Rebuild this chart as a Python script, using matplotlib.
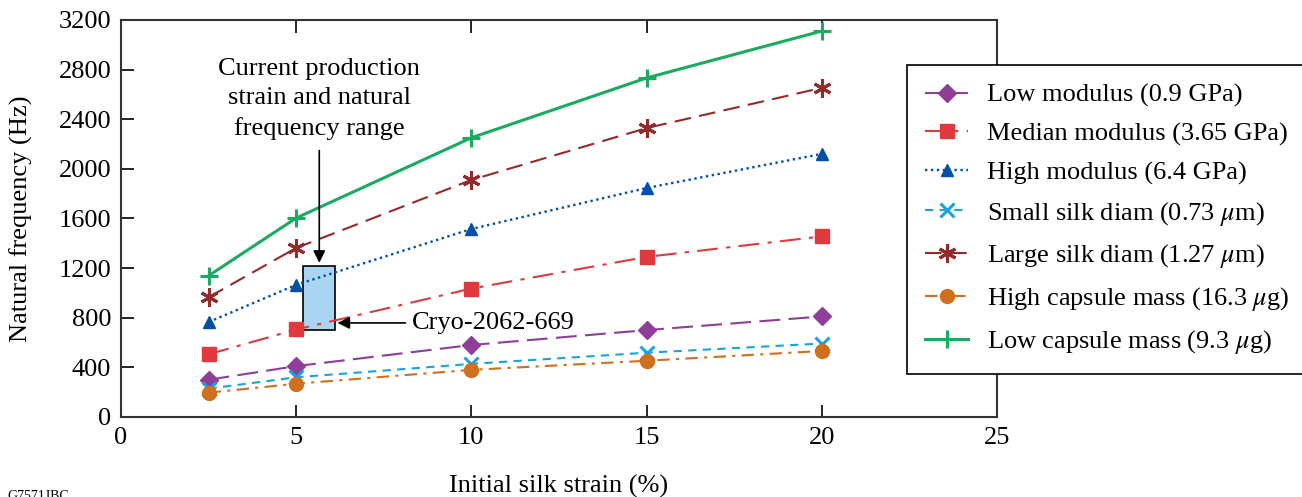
import matplotlib
matplotlib.use("Agg")
import matplotlib.pyplot as plt
from matplotlib.patches import Rectangle

plt.rcParams['font.family'] = ['Liberation Serif', 'DejaVu Serif']
plt.rcParams['mathtext.fontset'] = 'stix'

strain = [2.5, 5, 10, 15, 20]
low_modulus = [300, 410, 580, 700, 810]
median_modulus = [505, 705, 1035, 1290, 1455]
high_modulus = [765, 1065, 1515, 1845, 2120]
small_diam = [228, 320, 428, 518, 592]
large_diam = [965, 1362, 1910, 2328, 2652]
high_mass = [196, 268, 380, 453, 532]
low_mass = [1138, 1603, 2250, 2732, 3110]

labels = ["Low modulus (0.9 GPa)", "Median modulus (3.65 GPa)", "High modulus (6.4 GPa)",
          r"Small silk diam (0.73 $\mu$m)", r"Large silk diam (1.27 $\mu$m)",
          r"High capsule mass (16.3 $\mu$g)", r"Low capsule mass (9.3 $\mu$g)"]

range_x = [5.2, 6.1]
range_y = [700, 1220]

FS = 19

fig = plt.figure(figsize=(13.02, 4.97), dpi=100)
ax = fig.add_axes([0.0929, 0.161, 0.6728, 0.799])

styles = [
    (low_modulus, '#8e3e96', (0, (10, 4)), 'D', 9, 1.5),
    (median_modulus, '#e0393e', (0, (10, 4, 2, 4)), 's', 10, 1.5),
    (high_modulus, '#0050a8', (0, (1, 1.5)), '^', 9, 1.7),
    (small_diam, '#1aa3e0', (0, (4, 3)), 'x', 10, 1.5),
    (large_diam, '#952a2a', (0, (8, 4)), (6, 2, 0), 13, 1.5),
    (high_mass, '#d06f1c', (0, (6, 3, 1.5, 3)), 'o', 10, 1.5),
    (low_mass, '#1aab60', '-', '+', 13, 2.2),
]
handles = []
for (vals, c, ls, m, ms, lw), lab in zip(styles, labels):
    mew = 2.2 if m in ('x', '+', (6, 2, 0)) else 1
    h, = ax.plot(strain, vals, color=c, linestyle=ls, marker=m, markersize=ms,
                 linewidth=lw, markeredgewidth=mew, label=lab)
    handles.append(h)

ax.add_patch(Rectangle((range_x[0], range_y[0]), range_x[1] - range_x[0],
                       range_y[1] - range_y[0], facecolor='#a9d5f2',
                       edgecolor='black', linewidth=1.2, zorder=1.5))

ax.annotate("", xy=(5.66, range_y[1]), xytext=(5.66, 2170),
            arrowprops=dict(arrowstyle='-|>', color='black', lw=1.2, mutation_scale=18))
ax.text(5.66, 2230, "Current production\nstrain and natural\nfrequency range",
        ha='center', va='bottom', fontsize=FS, linespacing=1.45)
ax.annotate("", xy=(range_x[1], 758), xytext=(8.2, 758),
            arrowprops=dict(arrowstyle='-|>', color='black', lw=1.2, mutation_scale=18))
ax.text(8.3, 758, "Cryo-2062-669", ha='left', va='center', fontsize=FS)

ax.set_xlim(0, 25)
ax.set_ylim(0, 3200)
ax.set_xticks([0, 5, 10, 15, 20, 25])
ax.set_yticks(range(0, 3201, 400))
ax.tick_params(direction='in', length=9, width=1.2, top=True, right=True,
               labelsize=FS, pad=7)
for s in ax.spines.values():
    s.set_linewidth(1.5)
    s.set_color('#333333')
ax.set_xlabel("Initial silk strain (%)", fontsize=FS, labelpad=19)
ax.set_ylabel("Natural frequency (Hz)", fontsize=FS, labelpad=18)

leg = fig.legend(handles=handles, loc='upper left', bbox_to_anchor=(0.6966, 0.869),
                 fontsize=FS, frameon=True, fancybox=False, edgecolor='black',
                 framealpha=1, handlelength=1.6, handletextpad=0.75, labelspacing=0.56,
                 borderpad=0.7, borderaxespad=0)
leg.get_frame().set_linewidth(1.2)
leg.set_zorder(5)

fig.text(0.006, -0.012, "G7571JBC", fontsize=10, ha='left', va='bottom')

fig.savefig("out.png", dpi=100)
